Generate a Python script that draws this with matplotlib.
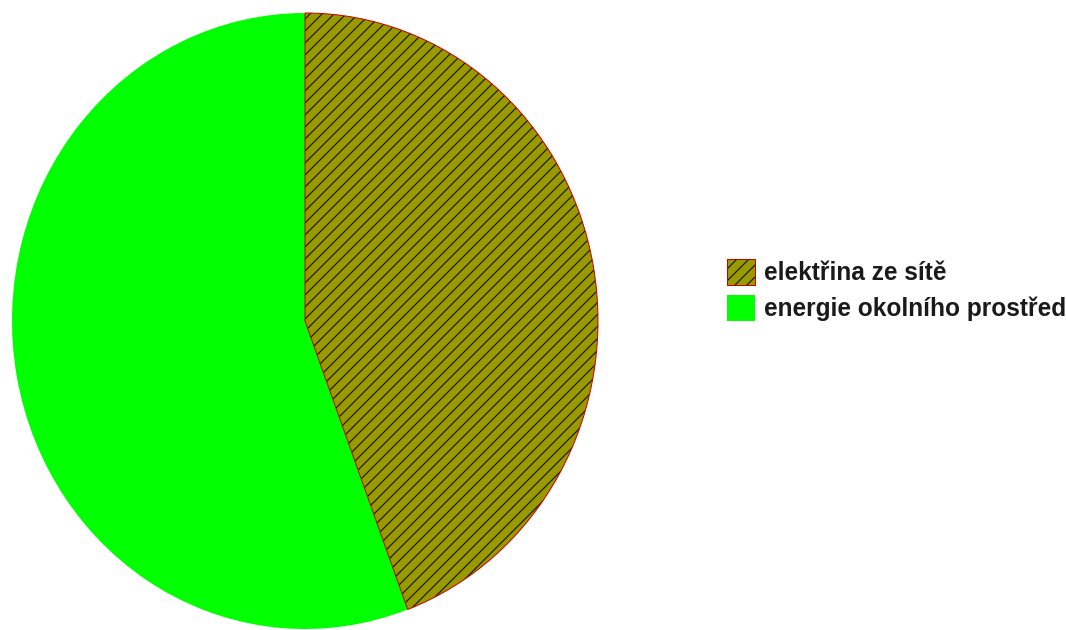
import matplotlib
matplotlib.use('agg')
import matplotlib.pyplot as plt
from matplotlib.legend_handler import HandlerTuple

labels = ['elektřina ze sítě', 'energie okolního prostředí']
shares = [44.3, 55.7]
fill_colors = ['#999900', '#00ff00']
outline_colors = ['#cc0000', 'none']

plt.rcParams['font.family'] = ['Liberation Sans', 'DejaVu Sans']
plt.rcParams['hatch.linewidth'] = 1.2

# dpi 72 keeps the '//' hatch spacing at about 12 px
fig = plt.figure(figsize=(1066 / 72, 630 / 72), dpi=72)
ax = fig.add_axes([12 / 1066, 1 / 630, 586 / 1066, 616 / 630])

# filled wedges, black hatch on the grid share
wedges, _ = ax.pie(shares, colors=fill_colors, startangle=90, counterclock=False,
                   frame=False, wedgeprops=dict(linewidth=0))
wedges[0].set_hatch('//')
wedges[0].set_edgecolor('#1a1a00')
wedges[0].set_linewidth(0)

# red outline on top (hatch colour follows edgecolor, so it is a separate layer)
outlines, _ = ax.pie(shares, colors=['none', 'none'], startangle=90, counterclock=False,
                     frame=False, wedgeprops=dict(linewidth=1.0))
for w, c in zip(outlines, outline_colors):
    w.set_edgecolor(c)

ax.set_aspect('auto')
ax.set_xlim(-1, 1)
ax.set_ylim(-1, 1)

handles = [(wedges[0], outlines[0]), wedges[1]]
leg = fig.legend(handles, labels, loc='upper left', bbox_to_anchor=(710 / 1066, 1 - 242 / 630),
                 frameon=False, fontsize=24.5, handlelength=1.12, handleheight=1.25,
                 labelspacing=0.4, handletextpad=0.4, borderpad=0.2,
                 handler_map={tuple: HandlerTuple(ndivide=1, pad=0)})
for t in leg.get_texts():
    t.set_fontweight('bold')
    t.set_color('#1a1a1a')

plt.savefig('out.png', dpi=72)
plt.close()
